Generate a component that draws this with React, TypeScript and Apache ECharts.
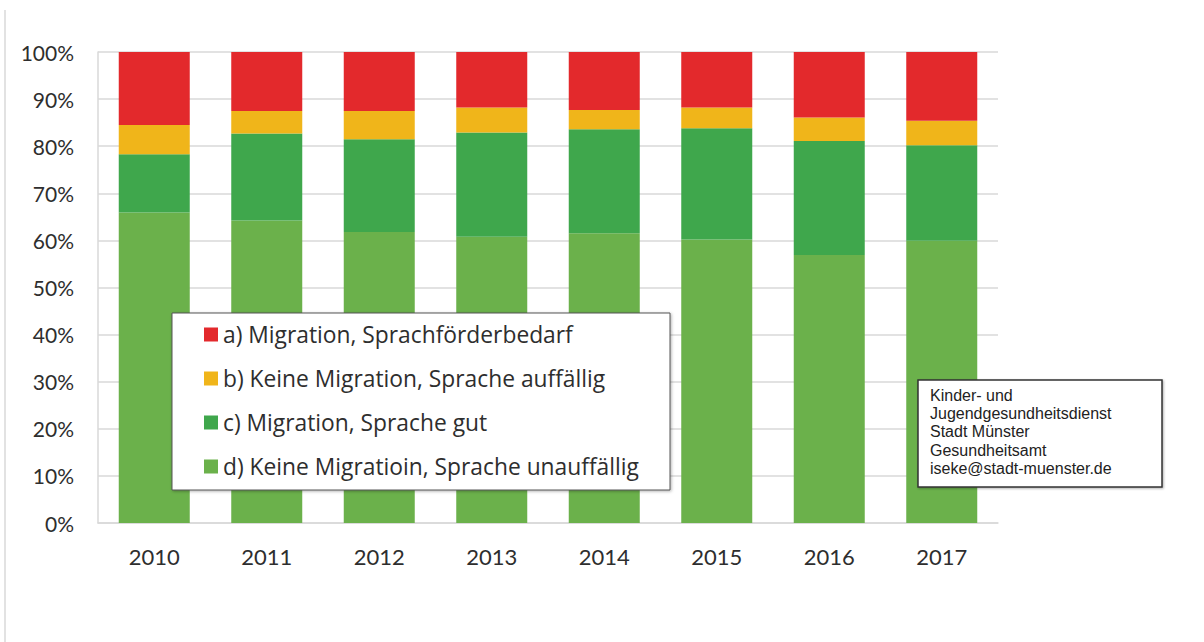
import React, { useEffect, useRef } from "react";
import * as echarts from "echarts";

const years = ["2010", "2011", "2012", "2013", "2014", "2015", "2016", "2017"];
const nameA = "a) Migration, Sprachförderbedarf";
const nameB = "b) Keine Migration, Sprache auffällig";
const nameC = "c) Migration, Sprache gut";
const nameD = "d) Keine Migratioin, Sprache unauffällig";
const seriesA = [15.5, 12.5, 12.5, 11.8, 12.3, 11.8, 13.9, 14.6];
const seriesB = [6.2, 4.8, 6.0, 5.3, 4.1, 4.4, 5.0, 5.2];
const seriesC = [12.4, 18.5, 19.7, 22.1, 22.1, 23.6, 24.2, 20.3];
const seriesD = [65.9, 64.2, 61.8, 60.8, 61.5, 60.2, 56.9, 59.9];
const yTicks = [0, 10, 20, 30, 40, 50, 60, 70, 80, 90, 100];
const infoLines = [
  "Kinder- und",
  "Jugendgesundheitsdienst",
  "Stadt Münster",
  "Gesundheitsamt",
  "iseke@stadt-muenster.de",
];

const colA = "#E3292C";
const colB = "#F0B51A";
const colC = "#3FA74C";
const colD = "#6BB14B";

export default function App() {
  const ref = useRef<HTMLDivElement>(null);
  useEffect(() => {
    if (!ref.current) return;
    const chart = echarts.init(ref.current, undefined, { renderer: "svg" });
    const font = "Lato, 'Open Sans', sans-serif";
    const legendFont = "'Open Sans', Lato, sans-serif";
    const mk = (name: string, data: number[], color: string) => ({
      name,
      type: "bar",
      stack: "total",
      data,
      barWidth: 71,
      itemStyle: { color },
      emphasis: { disabled: true },
    });
    chart.setOption({
      animation: false,
      backgroundColor: "#ffffff",
      grid: { left: 98, right: 206, top: 52, bottom: 119, containLabel: false },
      xAxis: {
        type: "category",
        data: years,
        axisLine: { show: true, lineStyle: { color: "#d9d9d9", width: 1.5 } },
        axisTick: { show: false },
        axisLabel: { color: "#2e2e2e", fontFamily: font, fontSize: 22, margin: 22 },
      },
      yAxis: {
        type: "value",
        min: yTicks[0],
        max: yTicks[yTicks.length - 1],
        interval: 10,
        axisLine: { show: true, lineStyle: { color: "#d9d9d9", width: 1.5 } },
        axisTick: { show: false },
        splitLine: { lineStyle: { color: "#d9d9d9", width: 1.5 } },
        axisLabel: {
          color: "#2e2e2e",
          fontFamily: font,
          fontSize: 21,
          margin: 24,
          formatter: (v: number) => v + "%",
        },
      },
      legend: {
        data: [nameA, nameB, nameC, nameD],
        orient: "vertical",
        left: 204,
        top: 323,
        padding: 0,
        itemWidth: 14,
        itemHeight: 14,
        itemGap: 21,
        icon: "rect",
        selectedMode: false,
        textStyle: { color: "#2e2e2e", fontFamily: legendFont, fontSize: 22.8, lineHeight: 22 },
      },
      graphic: [
        {
          type: "line",
          shape: { x1: 5, y1: 10, x2: 5, y2: 642 },
          style: { stroke: "#e2e2e2", lineWidth: 2 },
          silent: true,
        },
        {
          type: "rect",
          z: 3,
          shape: { x: 172, y: 313, width: 498, height: 177 },
          style: {
            fill: "#ffffff",
            stroke: "#555555",
            lineWidth: 1,
            shadowBlur: 3,
            shadowOffsetX: 1,
            shadowOffsetY: 1,
            shadowColor: "rgba(0,0,0,0.3)",
          },
          silent: true,
        },
        {
          type: "rect",
          z: 3,
          shape: { x: 918, y: 380, width: 244, height: 107 },
          style: {
            fill: "#ffffff",
            stroke: "#333333",
            lineWidth: 1.5,
            shadowBlur: 2,
            shadowOffsetX: 1,
            shadowOffsetY: 1,
            shadowColor: "rgba(0,0,0,0.3)",
          },
          silent: true,
        },
        {
          type: "text",
          z: 4,
          left: 930,
          top: 386,
          style: {
            text: infoLines.join("\n"),
            fill: "#222222",
            font: "16px 'Liberation Sans', Arial, sans-serif",
            lineHeight: 18.3,
            textAlign: "left",
            textVerticalAlign: "top",
          },
          silent: true,
        },
      ],
      series: [
        mk(nameD, seriesD, colD),
        mk(nameC, seriesC, colC),
        mk(nameB, seriesB, colB),
        mk(nameA, seriesA, colA),
      ],
    });
    return () => chart.dispose();
  }, []);
  return (
    <div
      ref={ref}
      style={{ position: "fixed", left: 0, top: 0, width: 1204, height: 642 }}
    />
  );
}
